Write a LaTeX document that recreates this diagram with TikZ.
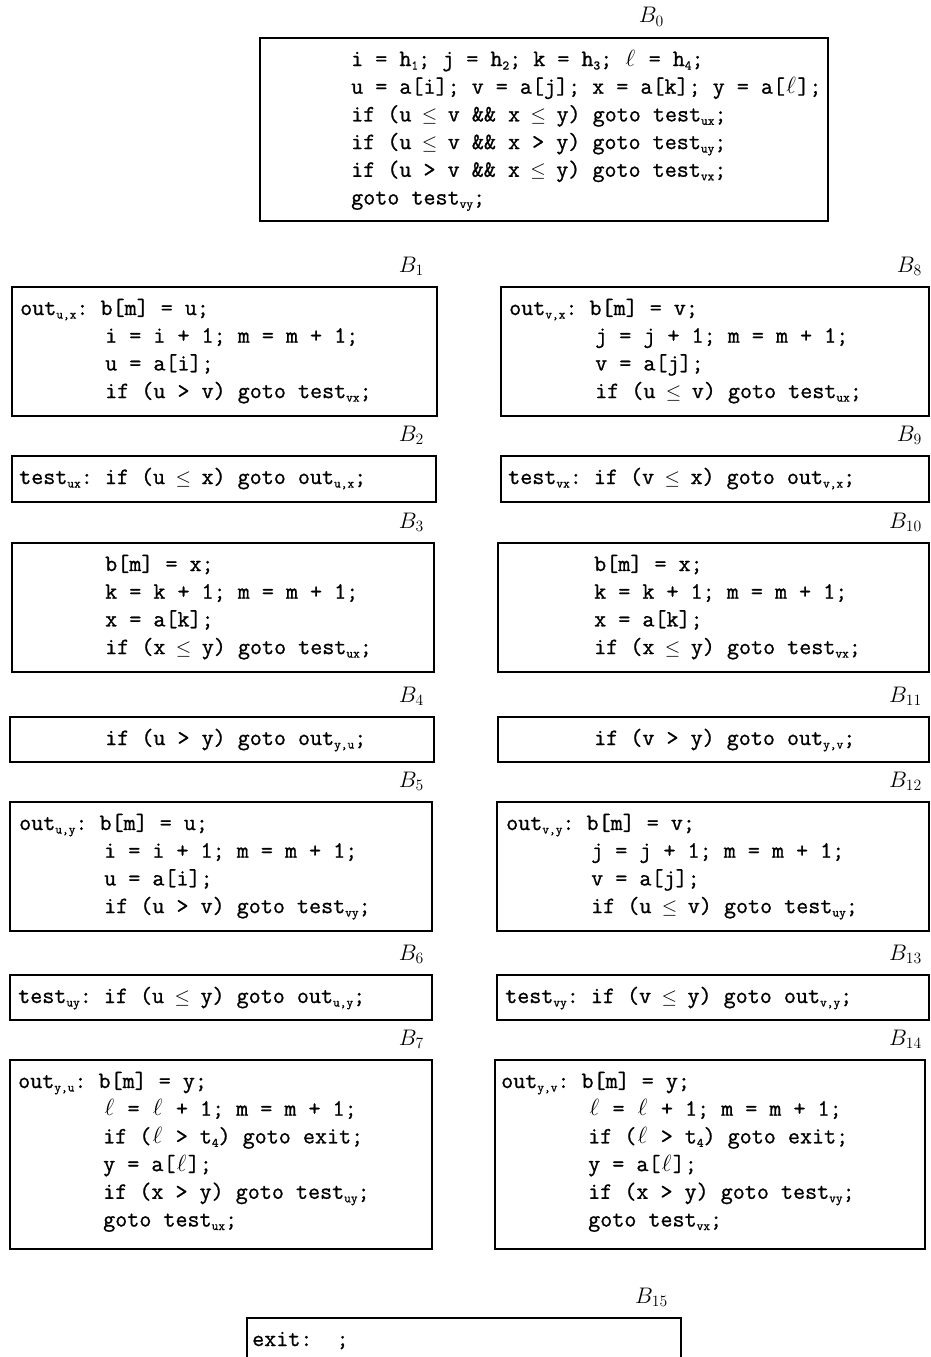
\RequirePackage{fix-cm}
\documentclass[tikz,border=0pt]{standalone}
\usepackage{fontspec}
\setmonofont[FakeBold=0.9]{Latin Modern Mono}
\usetikzlibrary{fit}
\newcommand\tsb[1]{\raisebox{-3.5pt}{\fontsize{13}{13}\selectfont #1}}
\newcommand\tle{\makebox[0.525em]{\scalebox{0.85}{$\le$}}}
\newcommand\tell{\makebox[0.525em]{$\ell$}}
\newcommand\codefont{\fontsize{23.4}{27.7}\selectfont\ttfamily}
\newcommand\labfont{\fontsize{22.5}{27.7}\selectfont}
\newcommand\cl[4]{\node[code] (#1) at (#2,#3) {#4};}
\newcommand\bx[5]{\node[blk, fit={(#2,#3) (#4,#5)}] (#1) {};}
\tikzset{
  blk/.style={draw, line width=1.2pt, inner sep=0pt, outer sep=0pt},
  code/.style={font=\codefont, inner sep=0pt, anchor=base west},
  lbl/.style={font=\labfont, inner sep=0pt, anchor=base east},
}
\begin{document}
\begin{tikzpicture}[x=1pt, y=-1pt]
\fill[white] (0,0) rectangle (930,1357);
\useasboundingbox (0,0) rectangle (930,1357);

% ---------- B0
\node[lbl] (l0) at (664,23) {$B_{0}$};
\bx{b0}{260}{38}{828}{221}
\cl{t0a}{351}{66}{i = h\tsb{1}; j = h\tsb{2}; k = h\tsb{3}; \tell{} = h\tsb{4};}
\cl{t0b}{351}{93.7}{u = a[i]; v = a[j]; x = a[k]; y = a[\tell];}
\cl{t0c}{351}{121.4}{if (u \tle{} v \&\& x \tle{} y) goto test\tsb{ux};}
\cl{t0d}{351}{149.1}{if (u \tle{} v \&\& x > y) goto test\tsb{uy};}
\cl{t0e}{351}{176.8}{if (u > v \&\& x \tle{} y) goto test\tsb{vx};}
\cl{t0f}{351}{204.5}{goto test\tsb{vy};}

% ---------- left column
\node[lbl] (l1) at (424,272) {$B_{1}$};
\bx{b1}{12}{287}{437}{416}
\cl{t1a}{20}{315}{out\tsb{u,x}: b[m] = u;}
\cl{t1c}{105}{342.7}{i = i + 1; m = m + 1;}
\cl{t1d}{105}{370.4}{u = a[i];}
\cl{t1e}{105}{398.1}{if (u > v) goto test\tsb{vx};}

\node[lbl] (l2) at (424,441) {$B_{2}$};
\bx{b2}{12}{456}{436}{502}
\cl{t2a}{19}{484}{test\tsb{ux}: if (u \tle{} x) goto out\tsb{u,x};}

\node[lbl] (l3) at (424,528) {$B_{3}$};
\bx{b3}{12}{543}{434}{672}
\cl{t3a}{105}{571}{b[m] = x;}
\cl{t3b}{105}{598.7}{k = k + 1; m = m + 1;}
\cl{t3c}{105}{626.4}{x = a[k];}
\cl{t3d}{105}{654.1}{if (x \tle{} y) goto test\tsb{ux};}

\node[lbl] (l4) at (424,702) {$B_{4}$};
\bx{b4}{10}{717}{434}{762}
\cl{t4a}{105}{745}{if (u > y) goto out\tsb{y,u};}

\node[lbl] (l5) at (424,787) {$B_{5}$};
\bx{b5}{10}{802}{432}{931}
\cl{t5a}{19}{830}{out\tsb{u,y}: b[m] = u;}
\cl{t5c}{104}{857.7}{i = i + 1; m = m + 1;}
\cl{t5d}{104}{885.4}{u = a[i];}
\cl{t5e}{104}{913.1}{if (u > v) goto test\tsb{vy};}

\node[lbl] (l6) at (424,960) {$B_{6}$};
\bx{b6}{10}{975}{432}{1020}
\cl{t6a}{18}{1003}{test\tsb{uy}: if (u \tle{} y) goto out\tsb{u,y};}

\node[lbl] (l7) at (424,1045) {$B_{7}$};
\bx{b7}{10}{1060}{432}{1249}
\cl{t7a}{18}{1088}{out\tsb{y,u}: b[m] = y;}
\cl{t7c}{103}{1115.7}{\tell{} = \tell{} + 1; m = m + 1;}
\cl{t7d}{103}{1143.4}{if (\tell{} > t\tsb{4}) goto exit;}
\cl{t7e}{103}{1171.1}{y = a[\tell];}
\cl{t7f}{103}{1198.8}{if (x > y) goto test\tsb{uy};}
\cl{t7g}{103}{1226.5}{goto test\tsb{ux};}

% ---------- right column
\node[lbl] (l8) at (922,272) {$B_{8}$};
\bx{b8}{501}{287}{929}{416}
\cl{t8a}{509}{315}{out\tsb{v,x}: b[m] = v;}
\cl{t8c}{595}{342.7}{j = j + 1; m = m + 1;}
\cl{t8d}{595}{370.4}{v = a[j];}
\cl{t8e}{595}{398.1}{if (u \tle{} v) goto test\tsb{ux};}

\node[lbl] (l9) at (922,441) {$B_{9}$};
\bx{b9}{501}{456}{929}{502}
\cl{t9a}{508}{484}{test\tsb{vx}: if (v \tle{} x) goto out\tsb{v,x};}

\node[lbl] (l10) at (922,528) {$B_{10}$};
\bx{b10}{498}{543}{929}{672}
\cl{t10a}{594}{571}{b[m] = x;}
\cl{t10b}{594}{598.7}{k = k + 1; m = m + 1;}
\cl{t10c}{594}{626.4}{x = a[k];}
\cl{t10d}{594}{654.1}{if (x \tle{} y) goto test\tsb{vx};}

\node[lbl] (l11) at (922,702) {$B_{11}$};
\bx{b11}{498}{717}{929}{762}
\cl{t11a}{594}{745}{if (v > y) goto out\tsb{y,v};}

\node[lbl] (l12) at (922,787) {$B_{12}$};
\bx{b12}{497}{802}{929}{931}
\cl{t12a}{506}{830}{out\tsb{v,y}: b[m] = v;}
\cl{t12c}{591}{857.7}{j = j + 1; m = m + 1;}
\cl{t12d}{591}{885.4}{v = a[j];}
\cl{t12e}{591}{913.1}{if (u \tle{} v) goto test\tsb{uy};}

\node[lbl] (l13) at (922,960) {$B_{13}$};
\bx{b13}{497}{975}{929}{1020}
\cl{t13a}{505}{1003}{test\tsb{vy}: if (v \tle{} y) goto out\tsb{v,y};}

\node[lbl] (l14) at (922,1045) {$B_{14}$};
\bx{b14}{495}{1060}{925}{1249}
\cl{t14a}{501}{1088}{out\tsb{y,v}: b[m] = y;}
\cl{t14c}{588}{1115.7}{\tell{} = \tell{} + 1; m = m + 1;}
\cl{t14d}{588}{1143.4}{if (\tell{} > t\tsb{4}) goto exit;}
\cl{t14e}{588}{1171.1}{y = a[\tell];}
\cl{t14f}{588}{1198.8}{if (x > y) goto test\tsb{vy};}
\cl{t14g}{588}{1226.5}{goto test\tsb{vx};}

% ---------- B15
\node[lbl] (l15) at (668,1303) {$B_{15}$};
\coordinate (e1) at (247,1360);
\coordinate (e2) at (681,1318);
\coordinate (e3) at (681,1360);
\draw[line width=1.2pt] (e1) |- (e2) -- (e3);
\cl{t15a}{252}{1346}{exit:\ \ ;}
\end{tikzpicture}
\end{document}
